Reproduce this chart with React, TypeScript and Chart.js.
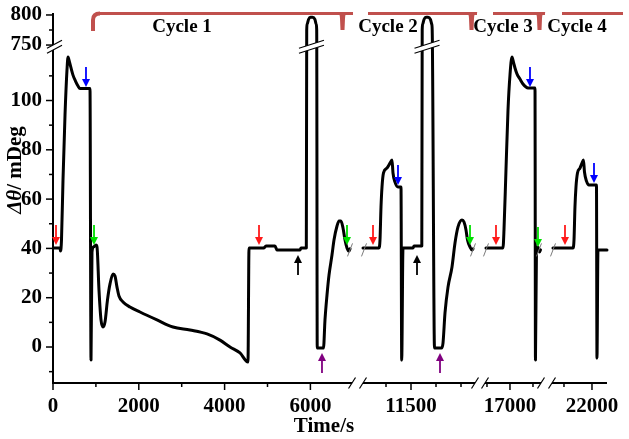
import { useEffect, useRef } from "react";
import { Chart, registerables } from "chart.js";

Chart.register(...registerables);

// ---------------- data (time in s, Δθ in mDeg) ----------------
const seg1Time = [23, 163, 175, 198, 233, 280, 326, 350, 385, 420, 466, 524, 583, 629, 862, 886, 909, 944, 1002, 1026, 1072, 1119, 1166, 1212, 1270, 1329, 1399, 1445, 1492, 1538, 1632, 1795, 2028, 2424, 2797, 3193, 3590, 3893, 4126, 4359, 4545, 4569, 4918, 4965, 5175, 5221, 5758, 5781, 5905, 5914, 5925, 5956, 6002, 6049, 6105, 6135, 6147, 6159, 6305, 6340, 6387, 6434, 6503, 6550, 6620, 6667, 6713, 6760, 6807, 6853, 6900, 6923];
const seg1Value = [40.2, 40.2, 38.9, 43.4, 67.7, 94.1, 112.4, 117.6, 115.6, 113.2, 110.3, 107.9, 105.9, 104.9, 104.9, -5.3, 38.5, 40.6, 41.4, 40.6, 23.1, 11.0, 8.1, 10.1, 19.1, 25.6, 29.6, 28.8, 24.3, 20.7, 18.3, 16.2, 14.2, 11.0, 8.1, 6.9, 5.3, 2.8, 0, -2.4, -6.1, 40.2, 40.2, 41.0, 41.0, 39.4, 39.4, 40.2, 40.2, 775, 784.9, 792.5, 796.1, 796.1, 792.5, 784.9, 775, -0.4, -0.4, 11.0, 21.1, 29.2, 37.3, 43.4, 49.1, 51.1, 51.1, 48.3, 43.4, 40.2, 38.9, 39.8];

const seg2Time = [10540, 10860, 10880, 10900, 10920, 10950, 11020, 11080, 11120, 11140, 11180, 11240, 11300, 11314, 11340, 11540, 11560, 11716, 11724, 11734, 11760, 11800, 11840, 11888, 11914, 11924, 11970, 12110, 12140, 12180, 12240, 12320, 12380, 12440, 12520, 12560, 12600, 12630, 12680, 12720, 12740];
const seg2Value = [40.2, 40.2, 43.4, 56.8, 64.9, 70.6, 72.6, 74.6, 75.9, 70.6, 66.9, 64.9, 64.9, -5.3, 40.2, 40.2, 41.0, 41.0, 775, 784.9, 792.5, 796.1, 796.1, 792.5, 784.9, 775, -0.4, -0.4, 1.6, 13.8, 24.3, 32.5, 42.2, 48.7, 51.5, 50.7, 47.5, 43.4, 40.6, 39.4, 39.8];

const seg3Time = [16478, 16848, 16870, 16913, 16957, 17000, 17043, 17076, 17109, 17152, 17217, 17283, 17348, 17391, 17544, 17554, 17576, 17609, 17641, 17663];
const seg3Value = [40.2, 40.2, 47.5, 71.8, 96.1, 110.3, 117.6, 115.6, 113.2, 110.8, 108.7, 106.7, 105.5, 105.1, 105.1, -5.3, 39.4, 40.6, 38.5, 39.4];

const seg4Time = [21303, 21661, 21679, 21696, 21714, 21741, 21786, 21821, 21848, 21866, 21902, 21946, 22080, 22089, 22107, 22268];
const seg4Value = [40.2, 40.2, 43.4, 56.8, 64.9, 70.6, 72.6, 74.6, 75.9, 71.0, 67.3, 65.7, 65.7, -4.5, 39.4, 39.4];

// arrows (tip position)
const redArrowTime = [70, 4802, 10740, 16696, 21518];
const redArrowValue = [41.4, 41.4, 41.4, 41.4, 41.4];
const blueArrowTime = [769, 11240, 17435, 22036];
const blueArrowValue = [105.5, 65.7, 105.5, 66.5];
const greenArrowTime = [956, 6853, 12680, 17609];
const greenArrowValue = [41.4, 41.4, 41.4, 40.6];
const blackArrowTime = [5711, 11620];
const blackArrowValue = [37.3, 37.3];
const purpleArrowTime = [6270, 12080];
const purpleArrowValue = [-2.4, -2.4];

// loops that run through the y break
const loopTime = [6025, 11820];

// broken time axis: segment ranges
const segStart = [0, 10540, 16457, 21286];
const segEnd = [6970, 12780, 17674, 22268];

// tick labels
const xTickTimes = [0, 1000, 2000, 3000, 4000, 5000, 6000, 11000, 11500, 12000, 12500, 16500, 17000, 17500, 21500, 22000];
const xTickLabels = ["0", "", "2000", "", "4000", "", "6000", "", "11500", "", "", "", "17000", "", "", "22000"];
const yTickValues = [-10, 0, 10, 20, 30, 40, 50, 60, 70, 80, 90, 100, 110, 750, 775, 800];
const yTickLabels = ["", "0", "", "20", "", "40", "", "60", "", "80", "", "100", "", "750", "", "800"];
const cycleLabels = ["Cycle 1", "Cycle 2", "Cycle 3", "Cycle 4"];

// ---------------- axis mapping (layout) ----------------
const SEG_V0 = [0, 310, 432, 499]; // virtual start of each time segment
const SEG_K = [0.0429, 0.05, 0.046, 0.056]; // virtual units per second
const Y_BREAK_V = 122.5; // virtual y of 750
const Y_TOP_K = 0.244; // virtual units per mDeg above the break
const Y_BREAK_MARK = 121.8;

function segIndex(t: number) {
  let i = 0;
  for (let k = 0; k < segStart.length; k++) if (t >= segStart[k]) i = k;
  return i;
}
function toV(t: number) {
  const i = segIndex(t);
  return SEG_V0[i] + (t - segStart[i]) * SEG_K[i];
}
function toY(v: number) {
  return v <= 200 ? v : Y_BREAK_V + (v - 750) * Y_TOP_K;
}

const SERIF = "'Liberation Serif', 'Times New Roman', serif";
const BRACKET = "#c0504d";

function slash(ctx: CanvasRenderingContext2D, cx: number, cy: number, hw: number, d: number) {
  ctx.beginPath();
  ctx.moveTo(cx - hw, cy + d);
  ctx.lineTo(cx + hw, cy - d);
  ctx.stroke();
}
function doubleBreak(ctx: CanvasRenderingContext2D, cx: number, cy: number, hw: number, d: number, gap: number) {
  const c1 = cy - gap / 2;
  const c2 = cy + gap / 2;
  ctx.fillStyle = "#fff";
  ctx.beginPath();
  ctx.moveTo(cx - hw, c1 + d);
  ctx.lineTo(cx + hw, c1 - d);
  ctx.lineTo(cx + hw, c2 - d);
  ctx.lineTo(cx - hw, c2 + d);
  ctx.closePath();
  ctx.fill();
  ctx.strokeStyle = "#000";
  ctx.lineWidth = 1.2;
  slash(ctx, cx, c1, hw, d);
  slash(ctx, cx, c2, hw, d);
}
function arrow(ctx: CanvasRenderingContext2D, x: number, y: number, dir: number, color: string) {
  // dir = 1: pointing down (tail above); -1: pointing up
  const len = 20;
  const head = 8;
  ctx.strokeStyle = color;
  ctx.fillStyle = color;
  ctx.lineWidth = 1.8;
  ctx.beginPath();
  ctx.moveTo(x, y - dir * len);
  ctx.lineTo(x, y - dir * (head - 1));
  ctx.stroke();
  ctx.beginPath();
  ctx.moveTo(x, y);
  ctx.lineTo(x - 4, y - dir * head);
  ctx.lineTo(x + 4, y - dir * head);
  ctx.closePath();
  ctx.fill();
}
function stem(ctx: CanvasRenderingContext2D, sx: number, top: number, bottom: number) {
  ctx.beginPath();
  ctx.moveTo(sx - 6.5, top - 1.5);
  ctx.quadraticCurveTo(sx - 2.5, top - 1, sx - 2.5, top + 5);
  ctx.lineTo(sx - 2, bottom);
  ctx.lineTo(sx + 2, bottom);
  ctx.lineTo(sx + 2.5, top + 5);
  ctx.quadraticCurveTo(sx + 2.5, top - 1, sx + 6.5, top - 1.5);
  ctx.closePath();
  ctx.fill();
}

const decor = {
  id: "decor",
  afterDatasetsDraw(chart: any) {
    const { ctx, chartArea: ca, scales } = chart;
    const xs = scales.x;
    const ys = scales.y;
    const X = (t: number) => xs.getPixelForValue(toV(t));
    const Y = (v: number) => ys.getPixelForValue(toY(v));
    ctx.save();

    // axes
    ctx.strokeStyle = "#000";
    ctx.lineWidth = 2;
    ctx.beginPath();
    ctx.moveTo(ca.left, ca.bottom + 1);
    ctx.lineTo(ca.left, ca.top);
    ctx.stroke();
    for (let i = 0; i < segStart.length; i++) {
      ctx.beginPath();
      ctx.moveTo(i === 0 ? ca.left : X(segStart[i]), ca.bottom);
      ctx.lineTo(X(segEnd[i]), ca.bottom);
      ctx.stroke();
    }
    // ticks
    ctx.lineWidth = 1.5;
    yTickValues.forEach((v, i) => {
      const len = yTickLabels[i] ? 7 : 4;
      const py = Y(v);
      ctx.beginPath();
      ctx.moveTo(ca.left - len, py);
      ctx.lineTo(ca.left, py);
      ctx.stroke();
    });
    xTickTimes.forEach((t, i) => {
      const len = xTickLabels[i] ? 7 : 4;
      const px = X(t);
      ctx.beginPath();
      ctx.moveTo(px, ca.bottom);
      ctx.lineTo(px, ca.bottom + len);
      ctx.stroke();
    });

    // y axis break
    const yb = ys.getPixelForValue(Y_BREAK_MARK);
    doubleBreak(ctx, ca.left + 1.5, yb, 7.5, 4, 5);
    // loop breaks
    loopTime.forEach((t) => doubleBreak(ctx, X(t), yb, 12.5, 4, 5));

    // x axis break slashes
    ctx.strokeStyle = "#000";
    ctx.lineWidth = 1.2;
    for (let i = 0; i < segStart.length; i++) {
      if (i > 0) slash(ctx, X(segStart[i]), ca.bottom, 3.5, 5.5);
      if (i < segStart.length - 1) slash(ctx, X(segEnd[i]), ca.bottom, 3.5, 5.5);
    }
    // gray data break marks
    ctx.strokeStyle = "#7a7a7a";
    ctx.lineWidth = 1;
    const yd = Y(39.4);
    for (let i = 0; i < segStart.length - 1; i++) {
      slash(ctx, X(segEnd[i]) - 2, yd, 2.5, 6.5);
      slash(ctx, X(segStart[i + 1]) + 1, yd, 2.5, 6.5);
    }

    // arrows
    redArrowTime.forEach((t, i) => arrow(ctx, X(t), Y(redArrowValue[i]), 1, "#ff1a1a"));
    blueArrowTime.forEach((t, i) => arrow(ctx, X(t), Y(blueArrowValue[i]), 1, "#0000ff"));
    greenArrowTime.forEach((t, i) => arrow(ctx, X(t), Y(greenArrowValue[i]), 1, "#00e000"));
    blackArrowTime.forEach((t, i) => arrow(ctx, X(t), Y(blackArrowValue[i]), -1, "#000000"));
    purpleArrowTime.forEach((t, i) => arrow(ctx, X(t), Y(purpleArrowValue[i]), -1, "#800080"));

    // cycle brackets
    const by = 13.5;
    ctx.strokeStyle = BRACKET;
    ctx.fillStyle = BRACKET;
    ctx.lineCap = "butt";
    ctx.lineWidth = 4;
    ctx.beginPath();
    ctx.moveTo(93, 31);
    ctx.lineTo(93, 20);
    ctx.quadraticCurveTo(93, by, 100, by);
    ctx.stroke();
    ctx.lineWidth = 3;
    const spans = [
      [99, 353],
      [368, 477],
      [493, 545],
      [562, 623],
    ];
    spans.forEach(([a, b]) => {
      ctx.beginPath();
      ctx.moveTo(a, by);
      ctx.lineTo(b, by);
      ctx.stroke();
    });
    [342.5, 471.5, 539.5].forEach((sx) => stem(ctx, sx, by, 30));

    // cycle labels
    ctx.fillStyle = "#000";
    ctx.font = `bold 19px ${SERIF}`;
    ctx.textAlign = "center";
    ctx.textBaseline = "alphabetic";
    const cx = [182, 388, 503, 577];
    cycleLabels.forEach((s, i) => ctx.fillText(s, cx[i], 31.5));

    // axis titles
    ctx.font = `bold 21px ${SERIF}`;
    ctx.fillText("Time/s", 324, 432);

    ctx.translate(21, 170);
    ctx.rotate(-Math.PI / 2);
    ctx.textAlign = "left";
    const f1 = `italic bold 21px ${SERIF}`;
    const f2 = `bold 21px ${SERIF}`;
    ctx.font = f1;
    const w1 = ctx.measureText("Δθ").width;
    ctx.font = f2;
    const w2 = ctx.measureText("/ mDeg").width;
    const x0 = -(w1 + w2) / 2;
    ctx.font = f1;
    ctx.fillText("Δθ", x0, 0);
    ctx.font = f2;
    ctx.fillText("/ mDeg", x0 + w1, 0);

    ctx.restore();
  },
};

function series(times: number[], values: number[]) {
  return times.map((t, i) => ({ x: toV(t), y: toY(values[i]) }));
}

export default function App() {
  const ref = useRef<HTMLCanvasElement>(null);
  useEffect(() => {
    document.body.style.margin = "0";
    const lineStyle = {
      borderColor: "#000",
      borderWidth: 3,
      pointRadius: 0,
      fill: false,
      cubicInterpolationMode: "monotone" as const,
      borderJoinStyle: "round" as const,
      borderCapStyle: "round" as const,
    };
    const tickFont = { family: SERIF, size: 21, weight: "bold" as const };
    const chart = new Chart(ref.current as HTMLCanvasElement, {
      type: "line",
      data: {
        datasets: [
          { data: series(seg1Time, seg1Value), ...lineStyle },
          { data: series(seg2Time, seg2Value), ...lineStyle },
          { data: series(seg3Time, seg3Value), ...lineStyle },
          { data: series(seg4Time, seg4Value), ...lineStyle },
        ],
      },
      options: {
        responsive: false,
        animation: false,
        devicePixelRatio: 1,
        layout: { padding: { top: 13, right: 4, left: 0, bottom: 0 } },
        plugins: { legend: { display: false }, tooltip: { enabled: false } },
        scales: {
          x: {
            type: "linear",
            min: 0,
            max: 572,
            grid: { display: false, drawTicks: false },
            border: { display: false },
            afterBuildTicks: (s: any) => {
              s.ticks = xTickTimes.map((t) => ({ value: toV(t) }));
            },
            afterFit: (s: any) => {
              s.height = 56;
              s.paddingLeft = 0;
              s.paddingRight = 0;
            },
            ticks: {
              autoSkip: false,
              maxRotation: 0,
              minRotation: 0,
              padding: 11,
              color: "#000",
              font: tickFont,
              callback: (_v: any, i: number) => xTickLabels[i],
            },
          },
          y: {
            type: "linear",
            min: -14.6,
            max: 135.5,
            grid: { display: false, drawTicks: false },
            border: { display: false },
            afterBuildTicks: (s: any) => {
              s.ticks = yTickValues.map((v) => ({ value: toY(v) }));
            },
            afterFit: (s: any) => {
              s.width = 53;
              s.paddingTop = 0;
              s.paddingBottom = 0;
            },
            ticks: {
              autoSkip: false,
              padding: 11,
              color: "#000",
              font: tickFont,
              callback: (_v: any, i: number) => yTickLabels[i],
            },
          },
        },
      },
      plugins: [decor],
    } as any);
    return () => chart.destroy();
  }, []);
  return (
    <div style={{ width: 629, height: 439 }}>
      <canvas ref={ref} width={629} height={439} style={{ display: "block" }} />
    </div>
  );
}
